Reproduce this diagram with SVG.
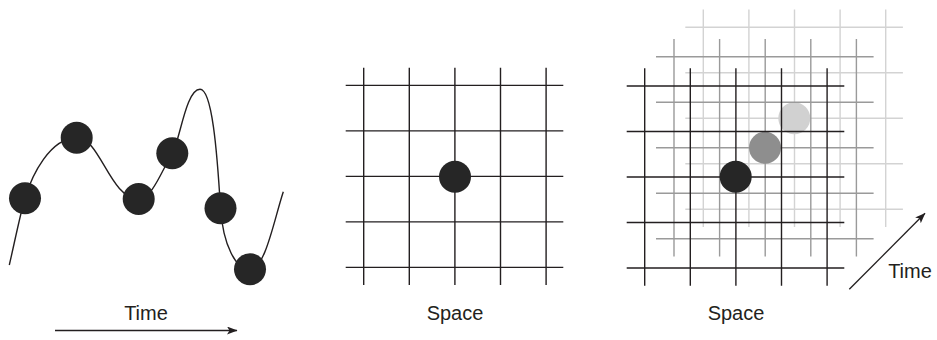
<svg xmlns="http://www.w3.org/2000/svg" xmlns:xlink="http://www.w3.org/1999/xlink" width="937" height="340" viewBox="0 0 937 340">
<style>
.lbl{font-family:"Liberation Sans",Arial,sans-serif;font-size:20px;fill:#231f20;text-anchor:middle}
.curve{fill:none;stroke:#231f20;stroke-width:1.4}
.dot{fill:#262626}
.conn{fill:none;stroke:#231f20;stroke-width:1.3}
</style>
<defs>
<g id="grid" fill="none" stroke-width="1.4">
<path d="M0,-17.7V199.7M45.6,-17.7V199.7M91.2,-17.7V199.7M136.8,-17.7V199.7M182.4,-17.7V199.7"/>
<path d="M-18,0H199.6M-18,45.5H199.6M-18,91H199.6M-18,136.5H199.6M-18,182H199.6"/>
</g>
<marker id="ah" markerUnits="userSpaceOnUse" markerWidth="12" markerHeight="10" refX="10" refY="4" orient="auto">
<path d="M0,0 L10.5,4 L0,8 L2.5,4 Z" fill="#231f20"/>
</marker>
</defs>

<g id="time-series">
<path class="curve" d="M9.3,265 C14,245 20,215 25,198 C32,175 50,138 76.7,137.7 C100,137 110,199 138.7,199 C152,199 162,170 172.3,153.3 C180,140 186,89.3 200,89.3 C212,89.3 217,150 220.5,208 C223,245 236,270 250,269.5 C265,269.5 274,220 283.3,191.7"/>
<circle class="dot" cx="25" cy="198.3" r="16"/>
<circle class="dot" cx="76.7" cy="137.7" r="16"/>
<circle class="dot" cx="138.7" cy="199" r="16"/>
<circle class="dot" cx="172.3" cy="153.3" r="16"/>
<circle class="dot" cx="220.5" cy="208.3" r="16"/>
<circle class="dot" cx="250" cy="269.3" r="16"/>
<text class="lbl" x="146" y="320">Time</text>
</g>

<g id="space-grid">
<use xlink:href="#grid" href="#grid" transform="translate(363.7,85.4)" stroke="#231f20"/>
<circle class="dot" cx="455" cy="176.7" r="16"/>
<text class="lbl" x="455" y="319.5">Space</text>
</g>

<g id="space-time-grid">
<use xlink:href="#grid" href="#grid" transform="translate(703.3,27.2)" stroke="#d3d3d3"/>
<circle cx="794.3" cy="118.3" r="16" fill="#d1d1d1"/>
<use xlink:href="#grid" href="#grid" transform="translate(674,56.7)" stroke="#9a9a9a"/>
<circle cx="765" cy="147.7" r="16" fill="#8e8e8e"/>
<use xlink:href="#grid" href="#grid" transform="translate(644.7,86)" stroke="#231f20"/>
<circle class="dot" cx="735.7" cy="176.7" r="16"/>
<text class="lbl" x="736" y="320">Space</text>
<text class="lbl" x="910" y="277.5">Time</text>
</g>

<g id="connectors">
<line class="conn" x1="55" y1="330.5" x2="237" y2="330.5" marker-end="url(#ah)"/>
<line class="conn" x1="849.3" y1="289.3" x2="925" y2="213.3" marker-end="url(#ah)"/>
</g>
</svg>
